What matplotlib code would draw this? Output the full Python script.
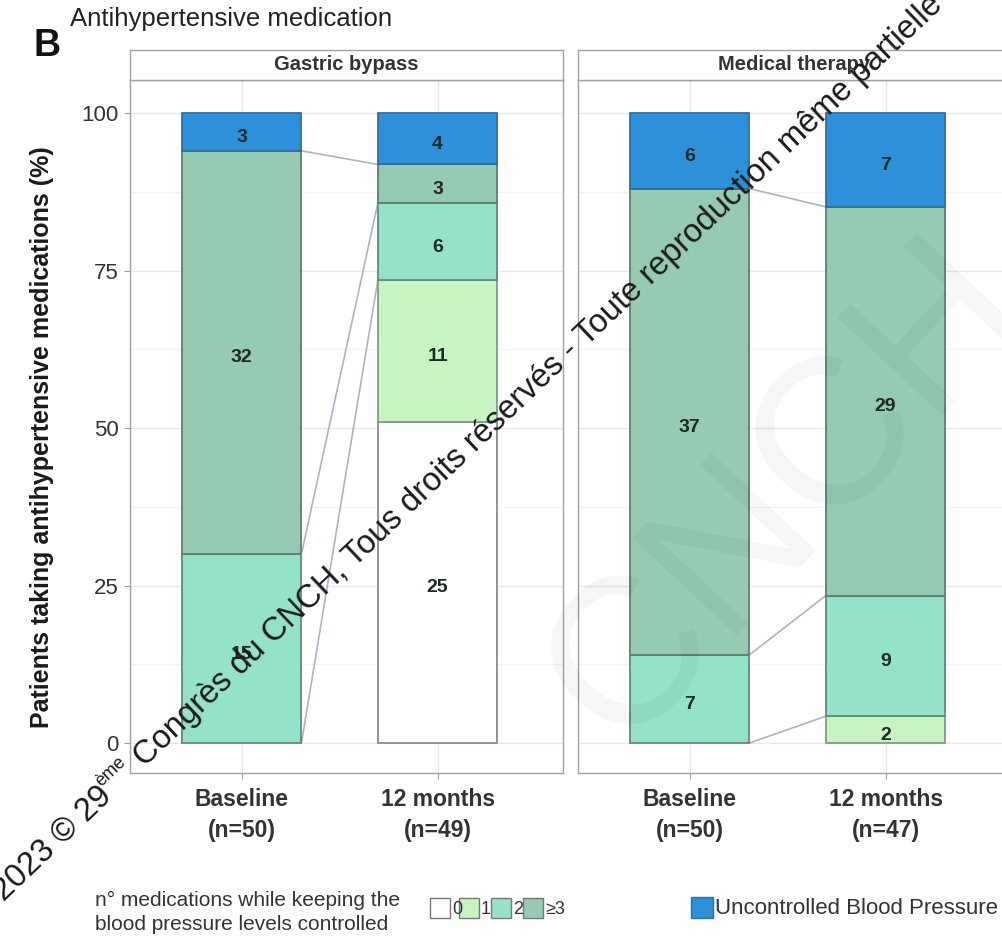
import matplotlib
matplotlib.use("Agg")
import matplotlib.pyplot as plt
from matplotlib.patches import Rectangle
from matplotlib.textpath import TextPath
from matplotlib.font_manager import FontProperties
import matplotlib.transforms as mtransforms
import numpy as np

plt.rcParams['font.family'] = ['Liberation Sans', 'DejaVu Sans']

# ---- data -------------------------------------------------------------
panel_titles = ["Gastric bypass", "Medical therapy"]
time_labels = [["Baseline\n(n=50)", "12 months\n(n=49)"],
               ["Baseline\n(n=50)", "12 months\n(n=47)"]]
categories = ["0", "1", "2", "\u22653", "Uncontrolled Blood Pressure"]
gastric_baseline = [0, 0, 15, 32, 3]
gastric_12m = [25, 11, 6, 3, 4]
medical_baseline = [0, 0, 7, 37, 6]
medical_12m = [0, 2, 9, 29, 7]
y_ticks = [0, 25, 50, 75, 100]

panels = [(gastric_baseline, gastric_12m), (medical_baseline, medical_12m)]

# ---- style ------------------------------------------------------------
colors = ["#ffffff", "#c6f5c2", "#94e2c9", "#95cbb3", "#2c90da"]
edges = ["#8a8a8a", "#7f9c86", "#5f8a7c", "#5f7d72", "#2f6f9c"]
flow_color = "#aab3c8"
text_dark = "#333333"

W, H = 1003, 939
fig = plt.figure(figsize=(W / 100, H / 100), dpi=100)


def fx(px):
    return px / W


def fy(py):
    return 1 - py / H


# faint background mark
fig.text(fx(620), fy(750), "CNCH", fontsize=150, family="Liberation Sans",
         color="black", alpha=0.04, rotation=47, rotation_mode="anchor",
         ha="left", va="baseline", zorder=20)

panel_x = [130, 578]
panel_w = 433
top, bottom, strip_top = 80, 773, 50
bar_w = 0.61
xpos = np.array([1.0, 2.0])

for p, (counts_a, counts_b) in enumerate(panels):
    ax = fig.add_axes([fx(panel_x[p]), fy(bottom), panel_w / W, (bottom - top) / H])
    ax.set_xlim(0.43, 2.64)
    ax.set_ylim(-4.76, 105.24)
    ax.set_facecolor("white")
    label_shift = mtransforms.offset_copy(ax.transData, fig=fig, x=0, y=-4, units="points")

    # grid
    ax.set_yticks(y_ticks)
    ax.set_yticks([12.5, 37.5, 62.5, 87.5], minor=True)
    ax.set_xticks(xpos)
    ax.grid(which="major", color="#e8e8e8", lw=1.0, zorder=0)
    ax.grid(which="minor", axis="y", color="#f3f3f3", lw=0.8, zorder=0)
    ax.set_axisbelow(True)

    stacks = []
    for j, counts in enumerate((counts_a, counts_b)):
        total = sum(counts)
        pct = np.array(counts) / total * 100
        bottoms = np.concatenate([[0], np.cumsum(pct)[:-1]])
        stacks.append((pct, bottoms))
        for k in range(len(categories)):
            if counts[k] == 0:
                continue
            ax.bar(xpos[j], pct[k], bottom=bottoms[k], width=bar_w,
                   color=colors[k], edgecolor=edges[k], lw=1.3, zorder=3)
            ax.text(xpos[j], bottoms[k] + pct[k] / 2, str(counts[k]),
                    ha="center", va="center", fontsize=14,
                    fontweight="bold", color="#1e2a26", zorder=5,
                    transform=label_shift)

    # flow outlines between categories present at both time points
    (pa, ba), (pb, bb) = stacks
    segs = set()
    for k in range(len(categories)):
        if counts_a[k] > 0 and counts_b[k] > 0:
            segs.add((round(ba[k], 4), round(bb[k], 4)))
            segs.add((round(ba[k] + pa[k], 4), round(bb[k] + pb[k], 4)))
    for y0, y1 in segs:
        if y0 >= 99.99 and y1 >= 99.99:
            continue
        ax.plot([xpos[0] + bar_w / 2, xpos[1] - bar_w / 2], [y0, y1],
                color=flow_color, lw=1.2, zorder=2, solid_capstyle="butt")

    for s in ax.spines.values():
        s.set_color("#a0a0a0")
        s.set_linewidth(1.0)

    ax.set_xticklabels(time_labels[p], fontsize=16.5, fontweight="bold",
                       color=text_dark, linespacing=1.45)
    ax.tick_params(axis="x", length=4, color="#a0a0a0", pad=7)
    ax.tick_params(axis="y", which="minor", length=0)
    if p == 0:
        ax.set_yticklabels([str(t) for t in y_ticks], fontsize=16, color=text_dark)
        ax.tick_params(axis="y", length=4, color="#a0a0a0", pad=4)
    else:
        ax.tick_params(axis="y", length=0, labelleft=False)

    # facet strip
    sax = fig.add_axes([fx(panel_x[p]), fy(top), panel_w / W, (top - strip_top) / H])
    sax.set_xticks([])
    sax.set_yticks([])
    sax.set_facecolor("white")
    for s in sax.spines.values():
        s.set_color("#a0a0a0")
        s.set_linewidth(1.0)
    sax.text(0.5, 0.5, panel_titles[p], ha="center", va="center",
             fontsize=14.5, fontweight="bold", color=text_dark,
             transform=sax.transAxes)

# axis title and heading
fig.text(fx(42), fy(437), "Patients taking antihypertensive medications (%)",
         rotation=90, ha="center", va="center", fontsize=18,
         fontweight="bold", color="#1a1a1a")
fig.text(fx(34), fy(56), "B", fontsize=27, fontweight="bold",
         color="#111111", ha="left", va="baseline")
fig.text(fx(70), fy(26), "Antihypertensive medication", fontsize=18.5,
         color="#222222", ha="left", va="baseline")

# legend
fig.text(fx(95), fy(900), "n\u00b0 medications while keeping the",
         fontsize=15, color="#333333", ha="left", va="center")
fig.text(fx(95), fy(924), "blood pressure levels controlled",
         fontsize=15, color="#333333", ha="left", va="center")
box_x = [430, 459, 491, 523]
for k in range(4):
    fig.add_artist(Rectangle((fx(box_x[k]), fy(918)), 20 / W, 20 / H,
                             transform=fig.transFigure, facecolor=colors[k],
                             edgecolor="#777777", lw=1.0))
    fig.text(fx(box_x[k] + 22), fy(910), categories[k], fontsize=13,
             color="#333333", ha="left", va="center")
fig.add_artist(Rectangle((fx(691), fy(918)), 22 / W, 21 / H,
                         transform=fig.transFigure, facecolor=colors[4],
                         edgecolor="#2f6f9c", lw=1.0))
fig.text(fx(715), fy(908), categories[4], fontsize=16, color="#333333",
         ha="left", va="center")

# copyright line running diagonally across the figure
wm_size = 23.5
wm_deg = 43.6
wm_prop = FontProperties(family="Liberation Sans", size=wm_size)
wm_angle = np.deg2rad(wm_deg)
parts = [("2023 \u00a9 29", 0, 1.0), ("\u00e8me", 0.5, 0.55),
         (" Congr\u00e8s du CNCH, Tous droits r\u00e9serv\u00e9s - Toute reproduction m\u00eame partielle", 0, 1.0)]
cx, cy = 4.0, 902.0
for s, rise, scale in parts:
    size = wm_size * scale
    px_rise = rise * wm_size * 100 / 72
    tx = cx - px_rise * np.sin(wm_angle)
    ty = cy - px_rise * np.cos(wm_angle)
    fig.text(fx(tx), fy(ty), s, fontsize=size, family="Liberation Sans",
             color="#1a1a1a", rotation=wm_deg, rotation_mode="anchor",
             ha="left", va="baseline", zorder=30)
    width_px = TextPath((0, 0), s, size=size, prop=wm_prop).get_extents().width * 100 / 72
    cx += (width_px + 2) * np.cos(wm_angle)
    cy -= (width_px + 2) * np.sin(wm_angle)

fig.savefig("out.png", dpi=100, facecolor="white")
